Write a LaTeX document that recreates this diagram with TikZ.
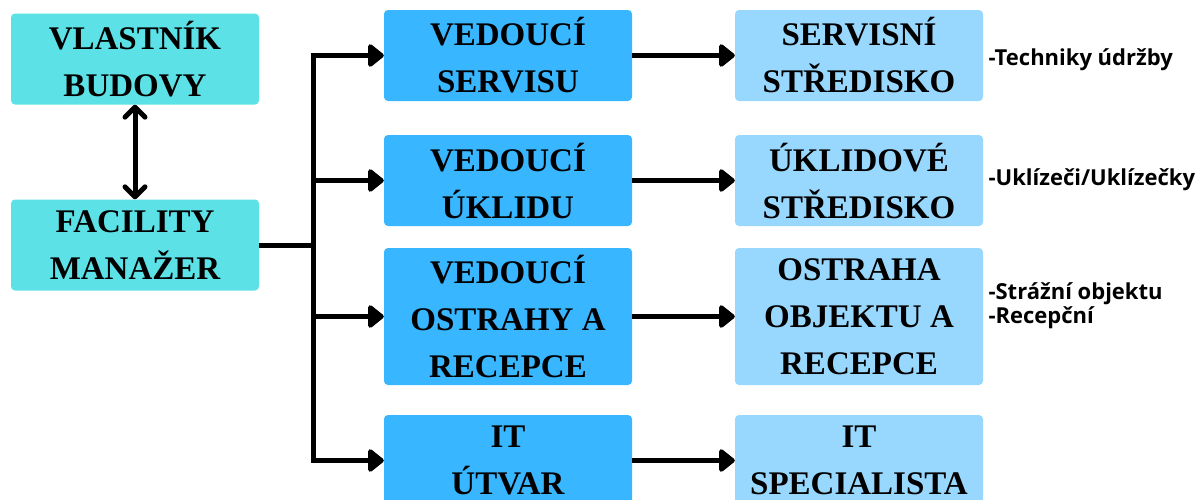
\documentclass[tikz,border=0pt]{standalone}
\usepackage{fontspec}
\setmainfont{Liberation Serif}
\newfontfamily\notefont{Open Sans}
\usetikzlibrary{arrows.meta}
\definecolor{tyrkys}{HTML}{5CE1E6}
\definecolor{modra}{HTML}{38B6FF}
\definecolor{svetla}{HTML}{99D8FE}

\begin{document}
\begin{tikzpicture}[x=1pt,y=-1pt,
	box/.style={rounded corners=4pt,minimum width=248pt,inner sep=0pt,align=center,
		font=\fontsize{33}{47}\selectfont\bfseries},
	arr/.style={line width=5pt,-{Triangle[length=17pt,width=26pt,round]}},
	note/.style={anchor=west,align=left,font=\notefont\bfseries\fontsize{22}{24}\selectfont}]
				\useasboundingbox (0,0) rectangle (1203,499);
				% vedeni budovy
				\node[box,fill=tyrkys,minimum height=91pt] (vb) at (135,59) {VLASTNÍK\\BUDOVY};
				\node[box,fill=tyrkys,minimum height=91pt] (fm) at (135,245) {FACILITY\\MANAŽER};
				% vedouci
				\node[box,fill=modra,minimum height=91pt] (m1) at (508,55.5) {VEDOUCÍ\\SERVISU};
				\node[box,fill=modra,minimum height=91pt] (m2) at (508,180.5) {VEDOUCÍ\\ÚKLIDU};
				\node[box,fill=modra,minimum height=137pt] (m3) at (508,316.5) {VEDOUCÍ\\OSTRAHY A\\RECEPCE};
				\node[box,fill=modra,minimum height=91pt] (m4) at (508,460.5) {IT\\ÚTVAR};
				% strediska
				\node[box,fill=svetla,minimum height=91pt] (r1) at (859,55.5) {SERVISNÍ\\STŘEDISKO};
				\node[box,fill=svetla,minimum height=91pt] (r2) at (859,180.5) {ÚKLIDOVÉ\\STŘEDISKO};
				\node[box,fill=svetla,minimum height=137pt] (r3) at (859,316.5) {OSTRAHA\\OBJEKTU A\\RECEPCE};
				\node[box,fill=svetla,minimum height=91pt] (r4) at (859,460.5) {IT\\SPECIALISTA};
				% pracovnici
				\node[note] (p1) at (985,60) {-Techniky údržby};
				\node[note] (p2) at (985,180) {-Uklízeči/Uklízečky};
				\node[note] (p3) at (985,306) {-Strážní objektu\\-Recepční};
				% spojnice
				\draw[line width=5pt,{Straight Barb[length=10pt,width=20pt,round]}-{Straight Barb[length=10pt,width=20pt,round]}]
				(vb) -- (fm);
				\coordinate (trunk) at (313,245);
				\draw[line width=5pt] (fm.east) -- (trunk);
				\foreach \m in {m1,m2,m3,m4}
				\draw[arr] (trunk) |- (\m.west);
				\foreach \i in {1,2,3,4}
				\draw[arr] (m\i) -- (r\i);
			\end{tikzpicture}
\end{document}
